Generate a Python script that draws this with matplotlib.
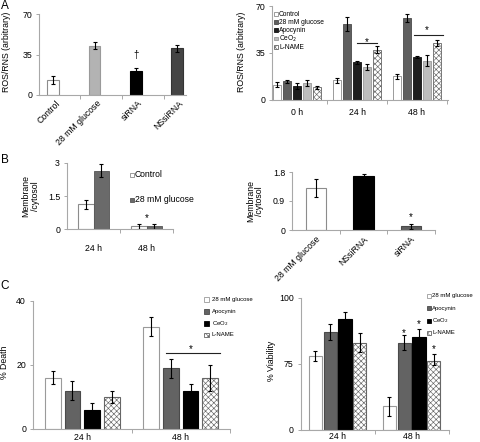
import numpy as np
import matplotlib
matplotlib.use('Agg')
import matplotlib.pyplot as plt
from matplotlib.patches import Rectangle
from matplotlib.transforms import ScaledTranslation

plt.rcParams['font.family'] = ['Liberation Sans', 'DejaVu Sans']
plt.rcParams['hatch.linewidth'] = 0.45
plt.rcParams['hatch.color'] = '#555555'

# ---------------- data ----------------
# Panel A (left)
a1_labels = ['Control', '28 mM glucose', 'siRNA', 'NSsiRNA']
a1_values = [13.0, 42.5, 21.0, 40.5]
a1_errors = [3.7, 3.0, 2.3, 3.0]
a1_ticks = [0, 35, 70]

# Panel A (right)
a2_groups = ['0 h', '24 h', '48 h']
a2_series = ['Control', '28 mM glucose', 'Apocynin', 'CeO$_2$', 'L-NAME']
a2_control = [11.0, 14.4, 17.4]
a2_glucose = [13.5, 56.3, 60.8]
a2_apocynin = [10.0, 27.8, 31.8]
a2_ceo2 = [12.3, 24.3, 29.0]
a2_lname = [9.2, 37.2, 42.2]
a2_control_err = [1.8, 1.9, 2.0]
a2_glucose_err = [1.0, 5.3, 2.9]
a2_apocynin_err = [2.5, 1.1, 0.5]
a2_ceo2_err = [2.0, 2.4, 4.0]
a2_lname_err = [1.0, 2.5, 2.5]

# Panel B (left)
b1_groups = ['24 h', '48 h']
b1_series = ['Control', '28 mM glucose']
b1_control = [1.12, 0.12]
b1_control_err = [0.2, 0.1]
b1_glucose = [2.65, 0.12]
b1_glucose_err = [0.3, 0.1]
b1_ticks = [0, 1.5, 3]

# Panel B (right)
b2_labels = ['28 mM glucose', 'NSsiRNA', 'siRNA']
b2_values = [1.31, 1.69, 0.12]
b2_errors = [0.28, 0.06, 0.08]
b2_ticks = [0, 0.9, 1.8]

# Panel C
c_groups = ['24 h', '48 h']
c_series = ['28 mM glucose', 'Apocynin', 'CeO$_2$', 'L-NAME']
c1_glucose = [16, 32]
c1_glucose_err = [2, 3]
c1_apocynin = [12, 19]
c1_apocynin_err = [3, 3]
c1_ceo2 = [6, 12]
c1_ceo2_err = [2, 2]
c1_lname = [10, 16]
c1_lname_err = [2, 4]
c1_ticks = [0, 20, 40]

c2_glucose = [78, 26.5]
c2_glucose_err = [2, 11]
c2_apocynin = [87, 83]
c2_apocynin_err = [3, 2.8]
c2_ceo2 = [92, 85]
c2_ceo2_err = [2.5, 3]
c2_lname = [83, 76]
c2_lname_err = [3.5, 2.8]
c2_ticks = [0, 75, 100]

# ---------------- figure ----------------
W, H = 480, 442
fig = plt.figure(figsize=(4.8, 4.42), dpi=100)

SP = '#a8a8a8'   # spine colour
TS = 6.3         # tick label size
LS = 6.3         # axis label size
WHITE_EDGE = '#8c8c8c'
HATCH = 'xxxxxx'


def add_ax(left, top, right, bottom):
    return fig.add_axes([left / W, 1 - bottom / H, (right - left) / W, (bottom - top) / H])


def style(ax, yticks, ylabels, xminor):
    for s in ['top', 'right']:
        ax.spines[s].set_visible(False)
    for s in ['left', 'bottom']:
        ax.spines[s].set_color(SP)
        ax.spines[s].set_linewidth(0.8)
    ax.set_yticks(yticks)
    ax.set_yticklabels(ylabels)
    ax.tick_params(axis='y', length=2.5, width=0.7, color=SP, pad=2.5, labelsize=TS)
    ax.tick_params(axis='x', which='major', length=0, labelsize=TS)
    ax.set_xticks(xminor, minor=True)
    ax.tick_params(axis='x', which='minor', length=3, width=0.7, color=SP)


def star(ax, x, y, s='*', fs=7, k=0.58):
    ax.text(x, y, s, ha='center', va='baseline', fontsize=fs,
            transform=ax.transData + ScaledTranslation(0, -k * fs / 72, fig.dpi_scale_trans))


def fig_text(x, y, s, **kw):
    fig.text(x / W, 1 - y / H, s, **kw)


def legend(x, rows, labels, faces, hatches, edges, size, tx, fs):
    for y, lab, fc, hc, ec in zip(rows, labels, faces, hatches, edges):
        r = Rectangle((x / W, 1 - (y + size / 2) / H), size / W, size / H,
                      transform=fig.transFigure, facecolor=fc, edgecolor=ec,
                      hatch=hc, linewidth=0.6)
        fig.add_artist(r)
        fig_text(tx, y, lab, ha='left', va='center', fontsize=fs)


ERR = dict(ecolor='black', elinewidth=0.8, capsize=1.6, capthick=0.8)

# ---------------- Panel A left ----------------
ax = add_ax(39, 14, 186, 95)
x = np.arange(len(a1_labels))
ax.bar(x, a1_values, width=0.285, yerr=a1_errors,
       color=['white', '#b3b3b3', 'black', '#444444'],
       edgecolor=[WHITE_EDGE, '#9a9a9a', 'black', '#333333'], linewidth=0.8,
       error_kw=ERR, zorder=2)
ax.set_xlim(-0.347, 3.22)
ax.set_ylim(0, 70)
style(ax, a1_ticks, [str(t) for t in a1_ticks], [0.648, 1.67, 2.69])
ax.set_xticks(x)
ax.set_xticklabels(a1_labels, rotation=45, ha='right', va='center', rotation_mode='anchor')
for lbl in ax.get_xticklabels():
    lbl.set_transform(lbl.get_transform() + ScaledTranslation(0.05, -0.02, fig.dpi_scale_trans))
star(ax, 2, 34.5, s='\u2020', fs=7, k=0.35)
fig_text(6.7, 52, 'ROS/RNS (arbitrary)', rotation=90, ha='center', va='center', fontsize=LS)
fig_text(1, 0, 'A', ha='left', va='top', fontsize=8.5)

# ---------------- Panel A right ----------------
ax = add_ax(272, 6, 448, 99.5)
g = np.arange(len(a2_groups))
a2_vals = [a2_control, a2_glucose, a2_apocynin, a2_ceo2, a2_lname]
a2_errs = [a2_control_err, a2_glucose_err, a2_apocynin_err, a2_ceo2_err, a2_lname_err]
a2_fc = ['white', '#5f5f5f', '#1e1e1e', '#bdbdbd', 'white']
a2_ec = [WHITE_EDGE, '#4a4a4a', '#111111', '#9a9a9a', '#666666']
a2_h = [None, None, None, None, HATCH]
for k in range(5):
    ax.bar(g + (k - 2) / 6, a2_vals[k], width=0.142, yerr=a2_errs[k],
           color=a2_fc[k], edgecolor=a2_ec[k], hatch=a2_h[k], linewidth=0.6,
           error_kw=ERR, zorder=2)
ax.set_xlim(-0.417, 2.517)
ax.set_ylim(0, 70)
style(ax, a1_ticks, [str(t) for t in a1_ticks], [0.5, 1.5, 2.5])
ax.set_xticks(g)
ax.set_xticklabels(a2_groups)
ax.tick_params(axis='x', which='major', pad=6)
ax.plot([1.0, 1.333], [42.5, 42.5], color='#222222', lw=0.8)
star(ax, 1.17, 45.3)
ax.plot([1.95, 2.43], [48.3, 48.3], color='#222222', lw=0.8)
star(ax, 2.17, 53.8)
fig_text(242, 52, 'ROS/RNS (arbitrary)', rotation=90, ha='center', va='center', fontsize=LS)
legend(274, [14, 22.3, 30.3, 38.5, 47.3], a2_series, a2_fc, a2_h, a2_ec, 3.8, 279, 4.8)

# ---------------- Panel B left ----------------
ax = add_ax(67, 163, 173, 229)
g = np.arange(len(b1_groups))
ax.bar(g - 0.15, b1_control, width=0.3, yerr=b1_control_err, color='white',
       edgecolor=WHITE_EDGE, linewidth=0.8, error_kw=ERR, zorder=2)
ax.bar(g + 0.15, b1_glucose, width=0.3, yerr=b1_glucose_err, color='#6a6a6a',
       edgecolor='#555555', linewidth=0.6, error_kw=ERR, zorder=2)
ax.set_xlim(-0.5, 1.5)
ax.set_ylim(0, 3)
style(ax, b1_ticks, ['0', '1.5', '3'], [0.5, 1.5])
ax.set_xticks(g)
ax.set_xticklabels(b1_groups)
ax.tick_params(axis='x', which='major', pad=11)
star(ax, 1.0, 0.61)
fig_text(30.5, 196, 'Membrane\n/cytosol', rotation=90, ha='center', va='center',
         fontsize=LS, multialignment='center', linespacing=1.0)
fig_text(1, 154, 'B', ha='left', va='top', fontsize=8.5)
legend(130, [175, 200], b1_series, ['white', '#6a6a6a'], [None, None],
       [WHITE_EDGE, '#555555'], 4.2, 135, 6.2)

# ---------------- Panel B right ----------------
ax = add_ax(292, 172, 435, 230)
x = np.arange(len(b2_labels))
ax.bar(x, b2_values, width=0.42, yerr=b2_errors, color=['white', 'black', '#606060'],
       edgecolor=[WHITE_EDGE, 'black', '#4a4a4a'], linewidth=0.8, error_kw=ERR, zorder=2)
ax.set_xlim(-0.5, 2.5)
ax.set_ylim(0, 1.8)
style(ax, b2_ticks, ['0', '0.9', '1.8'], [0.5, 1.5, 2.5])
ax.set_xticks(x)
ax.set_xticklabels(b2_labels, rotation=45, ha='right', va='center', rotation_mode='anchor')
for lbl in ax.get_xticklabels():
    lbl.set_transform(lbl.get_transform() + ScaledTranslation(0.03, -0.03, fig.dpi_scale_trans))
star(ax, 2, 0.47)
fig_text(255.5, 201, 'Membrane\n/cytosol', rotation=90, ha='center', va='center',
         fontsize=LS, multialignment='center', linespacing=1.0)

# ---------------- Panel C left ----------------
ax = add_ax(33, 301, 230, 429)
g = np.arange(len(c_groups))
c1_vals = [c1_glucose, c1_apocynin, c1_ceo2, c1_lname]
c1_errs = [c1_glucose_err, c1_apocynin_err, c1_ceo2_err, c1_lname_err]
c_fc = ['white', '#636363', 'black', 'white']
c_ec = ['#9a9a9a', '#4a4a4a', 'black', '#666666']
c_h = [None, None, None, HATCH]
offs = [-0.3, -0.1, 0.1, 0.3]
for k in range(4):
    ax.bar(g + offs[k], c1_vals[k], width=0.16, yerr=c1_errs[k], color=c_fc[k],
           edgecolor=c_ec[k], hatch=c_h[k], linewidth=0.8, error_kw=ERR, zorder=2)
ax.set_xlim(-0.5, 1.5)
ax.set_ylim(0, 40)
style(ax, c1_ticks, ['0', '20', '40'], [0.5, 1.5])
ax.set_xticks(g)
ax.set_xticklabels(c_groups)
ax.tick_params(axis='x', which='major', pad=3)
ax.plot([0.855, 1.396], [23.8, 23.8], color='#222222', lw=0.8)
star(ax, 1.10, 25.9)
fig_text(4.5, 362, '% Death', rotation=90, ha='center', va='center', fontsize=LS)
fig_text(0, 280, 'C', ha='left', va='top', fontsize=8.5)
legend(204.3, [299.3, 311.5, 323.3, 335], c_series, c_fc, c_h, c_ec, 4.6, 211.5, 4.3)

# ---------------- Panel C right ----------------
ax = add_ax(300.7, 297.8, 448.5, 429.7)


def fwd(v):
    v = np.asarray(v, dtype=float)
    return np.where(v <= 75, v / 75.0, 1 + (v - 75) / 25.0)


def inv(t):
    t = np.asarray(t, dtype=float)
    return np.where(t <= 1, t * 75.0, 75 + (t - 1) * 25.0)


ax.set_yscale('function', functions=(fwd, inv))
c2_vals = [c2_glucose, c2_apocynin, c2_ceo2, c2_lname]
c2_errs = [c2_glucose_err, c2_apocynin_err, c2_ceo2_err, c2_lname_err]
for k in range(4):
    ax.bar(g + offs[k], c2_vals[k], width=0.18, yerr=c2_errs[k], color=c_fc[k],
           edgecolor=c_ec[k], hatch=c_h[k], linewidth=0.8, error_kw=ERR, zorder=2)
ax.set_xlim(-0.5, 1.5)
ax.set_ylim(0, 100)
style(ax, c2_ticks, ['0', '75', '100'], [0.5, 1.5])
ax.set_yticks([], minor=True)
ax.set_xticks(g)
ax.set_xticklabels(c_groups)
ax.tick_params(axis='x', which='major', pad=2)
star(ax, 0.9, 87.5)
star(ax, 1.1, 90.9)
star(ax, 1.3, 81.4)
fig_text(271.5, 361, '% Viability', rotation=90, ha='center', va='center', fontsize=LS)
legend(426.7, [296, 308.3, 320.7, 332.7], c_series, c_fc, c_h, c_ec, 4.0, 432.3, 4.3)

fig.savefig('out.png', dpi=100)
